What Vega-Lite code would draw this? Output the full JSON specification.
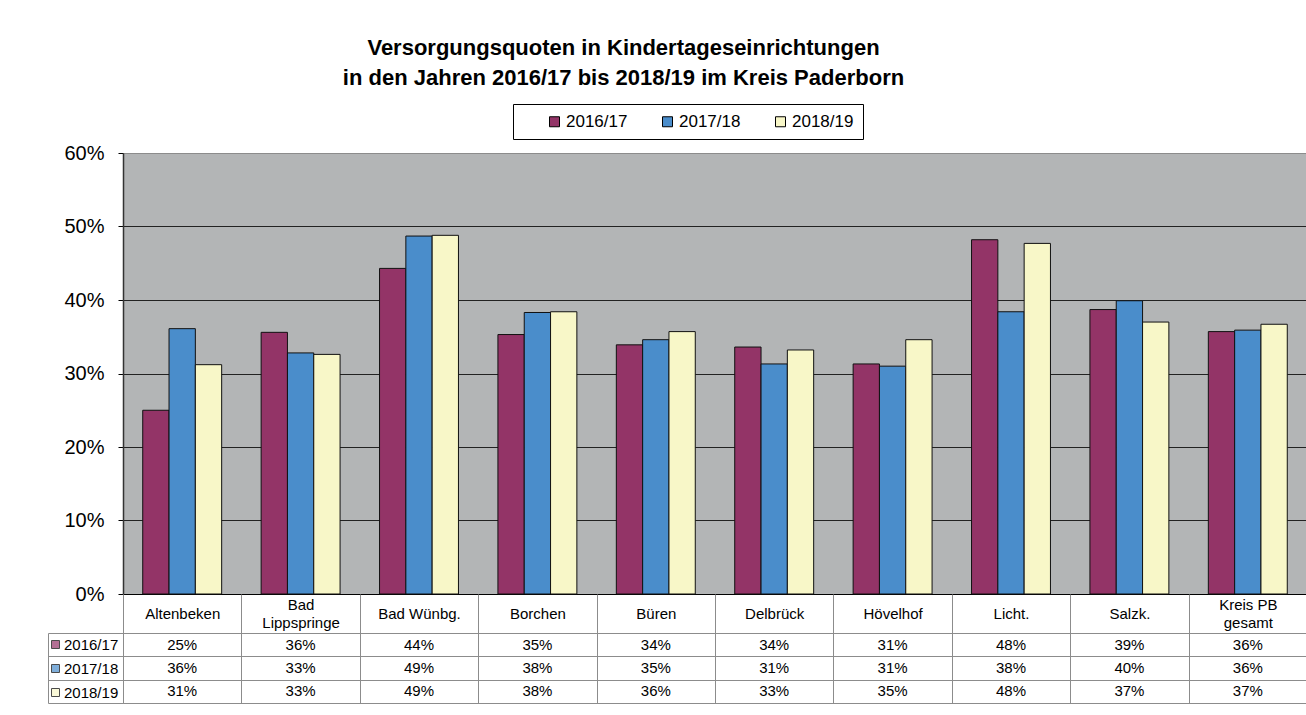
{
  "$schema": "https://vega.github.io/schema/vega-lite/v6.json",
  "autosize": {"type": "pad"},
  "padding": {"left": 47, "top": 37, "right": 0, "bottom": 0},
  "background": "white",
  "title": {
    "text": ["Versorgungsquoten in Kindertageseinrichtungen", "in den Jahren 2016/17 bis 2018/19 im Kreis Paderborn"],
    "fontSize": 22,
    "fontWeight": "bold",
    "lineHeight": 30,
    "color": "black",
    "anchor": "middle",
    "frame": "bounds",
    "dx": -54,
    "offset": 13
  },
  "datasets": {
    "quoten": [
      {"category": "Altenbeken", "series": "2016/17", "value": 0.250},
      {"category": "Altenbeken", "series": "2017/18", "value": 0.361},
      {"category": "Altenbeken", "series": "2018/19", "value": 0.312},
      {"category": "Bad Lippspringe", "series": "2016/17", "value": 0.356},
      {"category": "Bad Lippspringe", "series": "2017/18", "value": 0.328},
      {"category": "Bad Lippspringe", "series": "2018/19", "value": 0.326},
      {"category": "Bad Wünbg.", "series": "2016/17", "value": 0.443},
      {"category": "Bad Wünbg.", "series": "2017/18", "value": 0.487},
      {"category": "Bad Wünbg.", "series": "2018/19", "value": 0.488},
      {"category": "Borchen", "series": "2016/17", "value": 0.353},
      {"category": "Borchen", "series": "2017/18", "value": 0.383},
      {"category": "Borchen", "series": "2018/19", "value": 0.384},
      {"category": "Büren", "series": "2016/17", "value": 0.339},
      {"category": "Büren", "series": "2017/18", "value": 0.346},
      {"category": "Büren", "series": "2018/19", "value": 0.357},
      {"category": "Delbrück", "series": "2016/17", "value": 0.336},
      {"category": "Delbrück", "series": "2017/18", "value": 0.313},
      {"category": "Delbrück", "series": "2018/19", "value": 0.332},
      {"category": "Hövelhof", "series": "2016/17", "value": 0.313},
      {"category": "Hövelhof", "series": "2017/18", "value": 0.310},
      {"category": "Hövelhof", "series": "2018/19", "value": 0.346},
      {"category": "Licht.", "series": "2016/17", "value": 0.482},
      {"category": "Licht.", "series": "2017/18", "value": 0.384},
      {"category": "Licht.", "series": "2018/19", "value": 0.477},
      {"category": "Salzk.", "series": "2016/17", "value": 0.387},
      {"category": "Salzk.", "series": "2017/18", "value": 0.399},
      {"category": "Salzk.", "series": "2018/19", "value": 0.370},
      {"category": "Kreis PB gesamt", "series": "2016/17", "value": 0.357},
      {"category": "Kreis PB gesamt", "series": "2017/18", "value": 0.359},
      {"category": "Kreis PB gesamt", "series": "2018/19", "value": 0.367}
    ]
  },
  "data": {"name": "quoten"},
  "spacing": -12,
  "resolve": {"scale": {"x": "independent", "y": "independent", "color": "independent"}, "legend": {"color": "independent"}},
  "vconcat": [
    {
      "width": 1184,
      "height": 441,
      "view": {"stroke": "#8c8c8c", "fill": "#B3B5B6"},
      "mark": {"type": "bar", "stroke": "#111111", "strokeWidth": 1},
      "encoding": {
        "x": {
          "field": "category", "type": "nominal",
          "sort": ["Altenbeken", "Bad Lippspringe", "Bad Wünbg.", "Borchen", "Büren", "Delbrück", "Hövelhof", "Licht.", "Salzk.", "Kreis PB gesamt"],
          "scale": {"paddingInner": 0, "paddingOuter": 0},
          "axis": {"labels": false, "ticks": false, "domain": true, "domainColor": "black", "domainWidth": 1, "title": null, "grid": false, "minExtent": 0, "maxExtent": 0}
        },
        "xOffset": {
          "field": "series", "type": "nominal",
          "sort": ["2016/17", "2017/18", "2018/19"],
          "scale": {"paddingInner": 0, "paddingOuter": 0.75}
        },
        "y": {
          "field": "value", "type": "quantitative",
          "scale": {"domain": [0, 0.6], "nice": false},
          "axis": {
            "values": [0, 0.1, 0.2, 0.3, 0.4, 0.5, 0.6],
            "format": ".0%", "title": null,
            "labelFontSize": 20, "labelColor": "black", "labelPadding": 14,
            "tickSize": 5, "tickColor": "black",
            "domainColor": "#333333", "domainWidth": 1.5,
            "grid": true, "gridWidth": 1,
            "gridColor": {"condition": {"test": "datum.value >= 0.6", "value": "#8c8c8c"}, "value": "#222222"}
          }
        },
        "color": {
          "field": "series", "type": "nominal",
          "scale": {"domain": ["2016/17", "2017/18", "2018/19"], "range": ["#933467", "#4A8DCB", "#F8F7C8"]},
          "legend": {
            "orient": "none", "legendX": 390, "legendY": -49,
            "direction": "horizontal", "title": null,
            "strokeColor": "black", "fillColor": "white", "padding": 9,
            "labelFontSize": 17, "labelColor": "black", "labelOffset": 3,
            "symbolType": "square", "symbolSize": 100,
            "symbolStrokeColor": "black", "symbolStrokeWidth": 1,
            "symbolOffset": 24, "columnPadding": 7,
            "labelExpr": "datum.label == '2018/19' ? datum.label + '\u00a0\u00a0\u00a0\u00a0' : datum.label"
          }
        }
      }
    },
    {
      "width": 1184,
      "height": 70,
      "view": {"stroke": "#8c8c8c", "fill": "white"},
      "layer": [
        {
          "mark": {"type": "text", "fontSize": 15, "color": "black"},
          "encoding": {
            "x": {
              "field": "category", "type": "nominal",
              "sort": ["Altenbeken", "Bad Lippspringe", "Bad Wünbg.", "Borchen", "Büren", "Delbrück", "Hövelhof", "Licht.", "Salzk.", "Kreis PB gesamt"],
              "scale": {"paddingInner": 0, "paddingOuter": 0},
              "axis": {
                "orient": "top", "title": null, "tickBand": "extent",
                "tickSize": 39, "tickColor": "#8c8c8c", "domainColor": "#8c8c8c",
                "labelPadding": {"condition": {"test": "datum.label == 'Bad Lippspringe' || datum.label == 'Kreis PB gesamt'", "value": -10}, "value": -19},
                "labelBaseline": "middle", "labelAngle": 0,
                "labelFontSize": 15, "labelColor": "black", "labelLineHeight": 18,
                "labelExpr": "datum.label == 'Bad Lippspringe' ? ['Bad', 'Lippspringe'] : datum.label == 'Kreis PB gesamt' ? ['Kreis PB', 'gesamt'] : datum.label",
                "grid": true, "gridColor": "#8c8c8c",
                "minExtent": 39, "maxExtent": 39
              }
            },
            "y": {
              "field": "series", "type": "nominal",
              "sort": ["2016/17", "2017/18", "2018/19"],
              "scale": {"paddingInner": 0, "paddingOuter": 0},
              "axis": {
                "orient": "left", "offset": 75, "title": null, "tickBand": "extent",
                "tickSize": -75, "tickColor": "#8c8c8c", "domainColor": "#8c8c8c",
                "labels": false, "grid": true, "gridColor": "#8c8c8c"
              }
            },
            "text": {"field": "value", "type": "quantitative", "format": ".0%"}
          }
        },
        {
          "mark": {"type": "square", "size": 0},
          "encoding": {
            "y": {"field": "series", "type": "nominal", "sort": ["2016/17", "2017/18", "2018/19"]},
            "color": {
              "field": "series", "type": "nominal",
              "scale": {"domain": ["2016/17", "2017/18", "2018/19"], "range": ["#933467", "#4A8DCB", "#F8F7C8"]},
              "legend": {
                "orient": "none", "legendX": -75, "legendY": 4,
                "direction": "vertical", "title": null, "padding": 0,
                "labelFontSize": 15, "labelColor": "black", "labelOffset": 1,
                "symbolType": "square", "symbolSize": 64,
                "symbolStrokeColor": "black", "symbolStrokeWidth": 1,
                "rowPadding": 8
              }
            }
          }
        }
      ]
    }
  ],
  "config": {
    "font": "Liberation Sans",
    "axis": {"labelFont": "Liberation Sans"},
    "legend": {"labelFont": "Liberation Sans"}
  }
}
